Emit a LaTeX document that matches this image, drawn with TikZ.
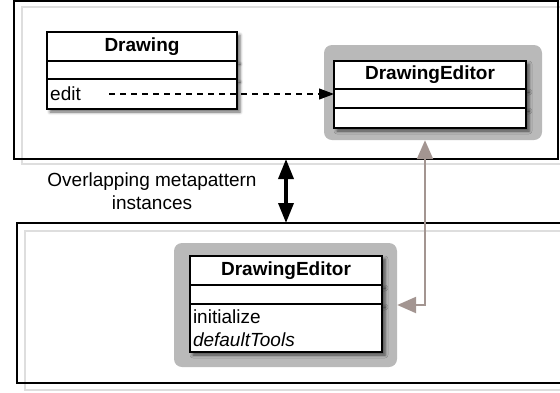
\documentclass[tikz,border=0pt]{standalone}
\usepackage{fontspec}
\setmainfont{Liberation Sans}
\usetikzlibrary{arrows.meta,positioning,shadows.blur}
\definecolor{framegray}{RGB}{222,222,222}
\definecolor{backgray}{RGB}{185,185,185}
\definecolor{linkgray}{RGB}{163,149,145}

\begin{document}
\begin{tikzpicture}[x=1pt, y=-1pt,
      every node/.style={font=\fontsize{19}{23}\selectfont},
      frame/.style={draw, line width=1.6pt, outer sep=0pt},
      frameshadow/.style={draw=framegray, line width=1.6pt},
      backdrop/.style={fill=backgray, rounded corners=8pt},
      cls/.style={draw, line width=1.2pt, fill=white, minimum width=192pt, outer sep=0pt, inner sep=0pt,
                  blur shadow={shadow xshift=3pt, shadow yshift=-3pt, shadow blur radius=3pt, shadow opacity=60}},
      hdr/.style={cls, font=\fontsize{19}{23}\selectfont\bfseries},
      member/.style={inner sep=3pt},
      dep/.style={dash pattern=on 6pt off 5pt, line width=1.2pt, -{Triangle[length=15pt, width=11pt]}},
      assoc/.style={draw=linkgray, line width=2.4pt, {Triangle[length=19pt, width=16pt]}-{Triangle[length=19pt, width=16pt]}},
      overlap/.style={line width=3.5pt, {Triangle[length=20pt, width=15pt]}-{Triangle[length=20pt, width=15pt]}}
    ]
      \useasboundingbox (0,0) rectangle (560,392);
      \clip (0,0) rectangle (560,392);
      \draw[frameshadow] (22,7) rectangle (620,164);
      \draw[frameshadow] (25,231) rectangle (620,390);
      \node[frame, minimum width=544pt, minimum height=158pt] (topframe) at (286,80) {};
      \node[frame, minimum width=603pt, minimum height=160pt] (bottomframe) at (318.5,303) {};
      \node[align=center] (caption) at (152,191) {Overlapping metapattern\\instances};

      \node[backdrop, minimum width=218pt, minimum height=95pt] (edback) at (433,92.5) {};
      \node[backdrop, minimum width=223pt, minimum height=124pt] (initback) at (285.5,305) {};

      \node[hdr, minimum width=190pt, minimum height=29pt, anchor=north] (drawhead) at (142,32) {Drawing};
      \node[cls, minimum width=190pt, minimum height=18pt, below=0pt of drawhead] (drawattr) {};
      \node[cls, minimum width=190pt, minimum height=30pt, below=0pt of drawattr] (drawops) {};
      \node[member, anchor=west] (edit) at (drawops.west) {edit};

      \node[hdr, minimum height=28pt, anchor=north] (edhead) at (430,61) {DrawingEditor};
      \node[cls, minimum height=19pt, below=0pt of edhead] (edattr) {};
      \node[cls, minimum height=20pt, below=0pt of edattr] (edops) {};

      \node[hdr, minimum height=29pt, anchor=north] (inithead) at (286,256) {DrawingEditor};
      \node[cls, minimum height=19pt, below=0pt of inithead] (initattr) {};
      \node[cls, minimum height=48pt, below=0pt of initattr, text width=186pt, align=left, inner sep=3pt] (initops)
        {initialize\\\textit{defaultTools}};

      \draw[dep, shorten <=25pt] (edit.east) -- (edit.east -| edattr.west);
      \draw[assoc] ([xshift=-8pt]edback.south) |- (initback.east);
      \draw[overlap] (topframe.south) -- (bottomframe.north -| topframe.south);
    \end{tikzpicture}
\end{document}
